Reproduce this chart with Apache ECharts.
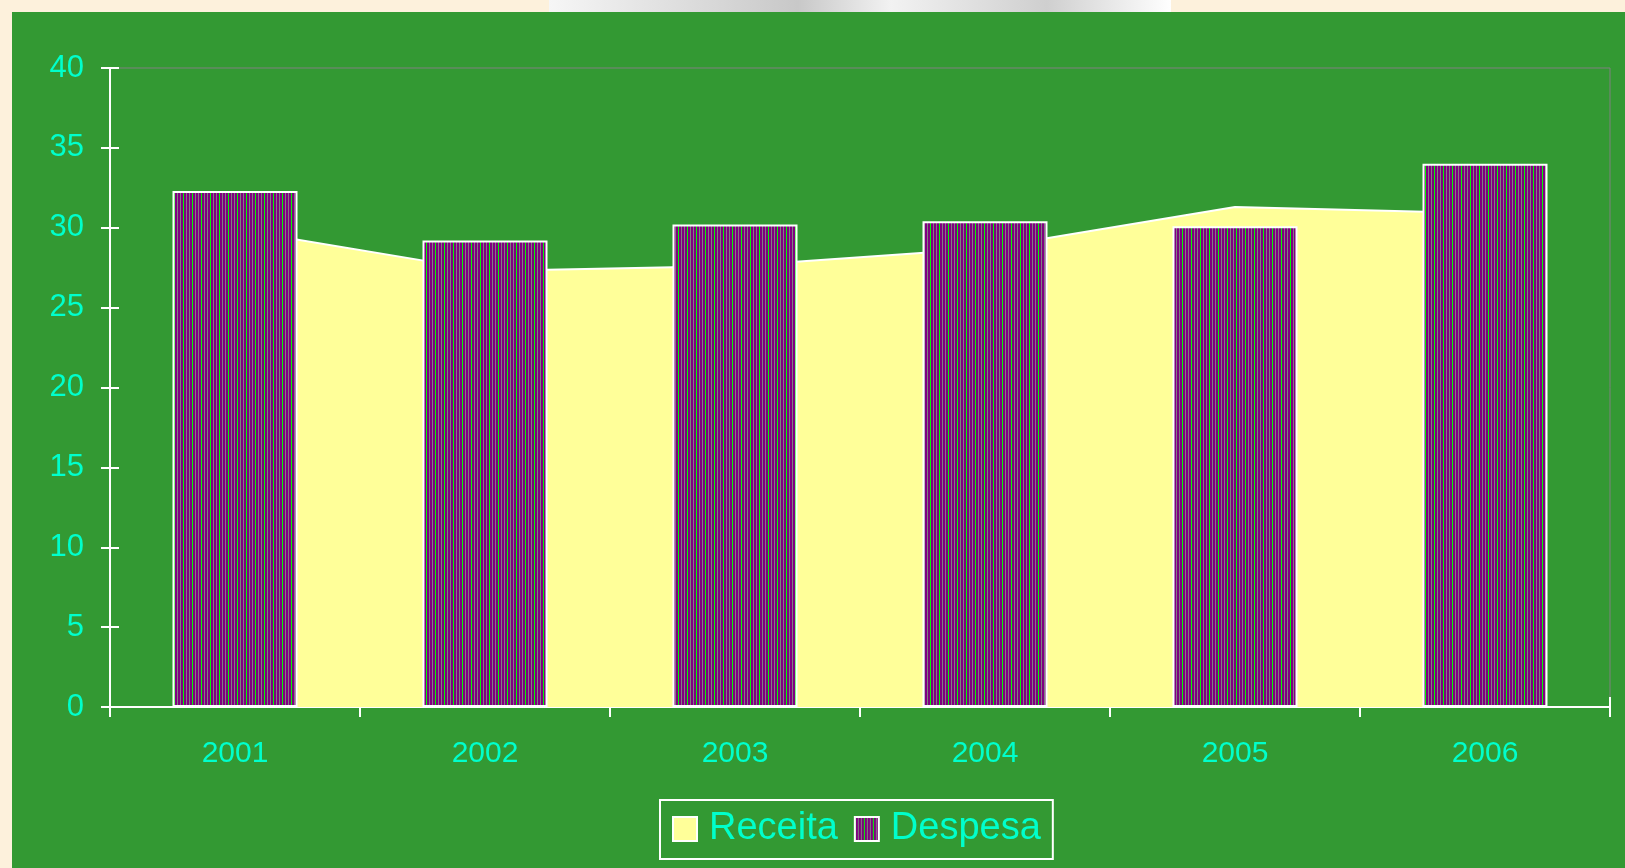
<!DOCTYPE html>
<html>
<head>
<meta charset="utf-8">
<script src="https://cdn.jsdelivr.net/npm/echarts@6/dist/echarts.min.js"></script>
<style>
    html, body {
        margin: 0;
        padding: 0;
        width: 1625px;
        height: 868px;
        overflow: hidden;
        background: #fdf1dc;
    }
    #strip {
        position: absolute;
        left: 549px;
        top: 0;
        width: 622px;
        height: 12px;
        background: linear-gradient(to right, #f6f6f6, #c8c8c8 40%, #f2f2f2 55%, #cfcfcf 80%, #ffffff);
    }
    #main {
        position: absolute;
        left: 12px;
        top: 12px;
        width: 1613px;
        height: 856px;
    }
</style>
</head>
<body>
<div id="strip"></div>
<div id="main"></div>
<script>
    // dados
    var anos = ['2001', '2002', '2003', '2004', '2005', '2006'];
    var receita = [29.9, 27.3, 27.6, 28.7, 31.3, 30.9];
    var despesa = [32.3, 29.2, 30.2, 30.4, 30.1, 34.0];

    var corTexto = '#00ffcc';

    // padrao de listras verticais das barras
    function makeStripes() {
        var cols = ['#00ff00', '#800080', '#800080', '#808080', '#800080', '#800080', '#808080', '#800080', '#800080'];
        var c = document.createElement('canvas');
        c.width = cols.length;
        c.height = 8;
        var ctx = c.getContext('2d');
        for (var i = 0; i < cols.length; i++) {
            ctx.fillStyle = cols[i];
            ctx.fillRect(i, 0, 1, 8);
        }
        return c;
    }

    var myChart = echarts.init(document.getElementById('main'), null, {renderer: 'canvas'});
    var options = {
        backgroundColor: '#339933',
        animation: false,
        textStyle: {
            fontFamily: 'Liberation Sans, Arial, sans-serif'
        },
        legend: {
            left: 648,
            top: 788,
            orient: 'horizontal',
            itemWidth: 24,
            itemHeight: 24,
            itemGap: 16,
            padding: [10, 12, 11, 12],
            borderColor: '#ffffff',
            borderWidth: 2,
            icon: 'rect',
            textStyle: {
                color: corTexto,
                fontSize: 38,
                padding: [6, 0, 0, 7],
                fontFamily: 'Liberation Sans, Arial, sans-serif'
            },
            data: ['Receita', 'Despesa']
        },
        grid: {
            left: 98,
            top: 56,
            right: 15,
            bottom: 161,
            show: true,
            borderColor: '#808080',
            borderWidth: 1,
            backgroundColor: 'transparent'
        },
        xAxis: [{
            type: 'category',
            data: anos,
            boundaryGap: true,
            axisLine: {lineStyle: {color: '#ffffff', width: 2}},
            axisTick: {show: true, length: 10, lineStyle: {color: '#ffffff', width: 2}},
            axisLabel: {color: corTexto, fontSize: 30, margin: 32},
            splitLine: {show: false}
        }, {
            type: 'category',
            data: anos,
            position: 'bottom',
            boundaryGap: true,
            axisLine: {show: false},
            axisTick: {show: true, inside: true, length: 10, lineStyle: {color: '#ffffff', width: 2}},
            axisLabel: {show: false},
            splitLine: {show: false}
        }],
        yAxis: [{
            type: 'value',
            min: 0,
            max: 40,
            interval: 5,
            axisLine: {show: true, lineStyle: {color: '#ffffff', width: 2}},
            axisTick: {show: true, length: 9, lineStyle: {color: '#ffffff', width: 2}},
            axisLabel: {color: corTexto, fontSize: 31, margin: 26},
            splitLine: {show: false}
        }, {
            type: 'value',
            min: 0,
            max: 40,
            interval: 5,
            position: 'left',
            axisLine: {show: false},
            axisTick: {show: true, inside: true, length: 9, lineStyle: {color: '#ffffff', width: 2}},
            axisLabel: {show: false},
            splitLine: {show: false}
        }],
        series: [
            {
                name: 'Receita',
                type: 'line',
                data: receita,
                symbol: 'none',
                z: 1,
                lineStyle: {color: '#ffffff', width: 2},
                itemStyle: {color: '#ffff99', borderColor: '#ffffff', borderWidth: 2},
                areaStyle: {color: '#ffff99', opacity: 1}
            },
            {
                name: 'Despesa',
                type: 'bar',
                data: despesa,
                barWidth: '50%',
                z: 3,
                itemStyle: {
                    color: {image: makeStripes(), repeat: 'repeat'},
                    borderColor: '#ffffff',
                    borderWidth: 2
                }
            }
        ]
    };
    myChart.setOption(options);
</script>
</body>
</html>
